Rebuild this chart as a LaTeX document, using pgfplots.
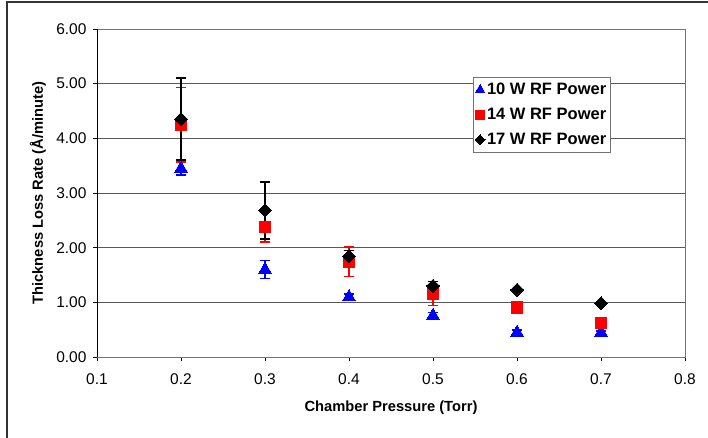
\documentclass[border=0pt]{standalone}
\usepackage{pgfplots}
\pgfplotsset{compat=1.18}
\usepackage{fontspec}
\setmainfont{Liberation Sans}

\pgfplotstableread{
x   y     e
0.2 3.45  0.12
0.3 1.60  0.165
0.4 1.10  0.05
0.5 0.76  0.05
0.6 0.45  0.04
0.7 0.45  0.03
}\tenw
\pgfplotstableread{
x   y     e
0.2 4.25  0.68
0.3 2.38  0.28
0.4 1.74  0.27
0.5 1.16  0.22
0.6 0.90  0.04
0.7 0.62  0.05
}\fourteenw
\pgfplotstableread{
x   y     e
0.2 4.35  0.75
0.3 2.68  0.52
0.4 1.84  0.11
0.5 1.30  0.08
0.6 1.23  0.00
0.7 0.98  0.00
}\seventeenw

\begin{document}
\begin{tikzpicture}[x=1pt,y=1pt]
\useasboundingbox (-97,-81) rectangle (611,357);
\draw[line width=1.5pt, black!80] (-90,-90) -- (-90,355) -- (620,355);
\begin{axis}[
    scale only axis,
    width=588pt, height=328pt,
    xmin=0.1, xmax=0.8, ymin=0, ymax=6,
    xtick={0.1,0.2,0.3,0.4,0.5,0.6,0.7,0.8},
    ytick={0,1,2,3,4,5,6},
    xtick pos=left, ytick pos=left,
    tick align=outside, major tick length=4pt,
    tick style={black, line width=0.8pt},
    axis line style={black!55, line width=0.9pt},
    ymajorgrids,
    major grid style={black!65, line width=0.9pt},
    /pgf/number format/assume math mode=true,
    tick label style={font=\fontsize{15.5}{17}\selectfont},
    yticklabel style={xshift=-3pt, /pgf/number format/.cd, fixed, fixed zerofill, precision=2},
    xticklabel style={yshift=-9pt, /pgf/number format/.cd, fixed, fixed zerofill, precision=1},
    xlabel={Chamber Pressure (Torr)},
    ylabel={Thickness Loss Rate (Å/minute)},
    label style={font=\bfseries\fontsize{14.7}{16}\selectfont},
    xlabel style={at={([yshift=-51pt]axis description cs:0.5,0)}, anchor=center},
    ylabel style={at={([xshift=-59pt]axis description cs:0,0.5)}, anchor=center},
    legend style={at={(rel axis cs:0.639,0.854)}, anchor=north west,
        draw=black!55, line width=1pt, fill=white,
        font=\bfseries\fontsize{16.5}{18}\selectfont,
        row sep=8pt, inner xsep=2pt, inner ysep=4pt},
    legend cell align=left,
    legend image post style={scale=0.75},
]
\addplot[only marks, mark=triangle*, mark size=7.3pt,
    mark options={fill=blue, draw=blue, line width=0pt},
    error bars/.cd, y dir=both, y explicit,
    error bar style={blue, line width=1.5pt},
    error mark options={rotate=90, blue, line width=1.5pt, mark size=5.3pt}]
    table[x=x, y=y, y error=e] {\tenw};
\addlegendentry{10 W RF Power}
\addplot[only marks, mark=square*, mark size=5.8pt,
    mark options={fill=red, draw=red, line width=0pt},
    error bars/.cd, y dir=both, y explicit,
    error bar style={red, line width=1.5pt},
    error mark options={rotate=90, red, line width=1.5pt, mark size=5.3pt}]
    table[x=x, y=y, y error=e] {\fourteenw};
\addlegendentry{14 W RF Power}
\addplot[only marks, mark=square*, mark size=4.6pt,
    mark options={fill=black, draw=black, line width=0pt, rotate=45},
    error bars/.cd, y dir=both, y explicit,
    error bar style={black, line width=1.5pt},
    error mark options={rotate=90, black, line width=1.5pt, mark size=5.3pt}]
    table[x=x, y=y, y error=e] {\seventeenw};
\addlegendentry{17 W RF Power}
\draw[black, line width=0.9pt] (rel axis cs:0,1) -- (rel axis cs:0,0) -- (rel axis cs:1,0);
\end{axis}
\end{tikzpicture}
\end{document}
